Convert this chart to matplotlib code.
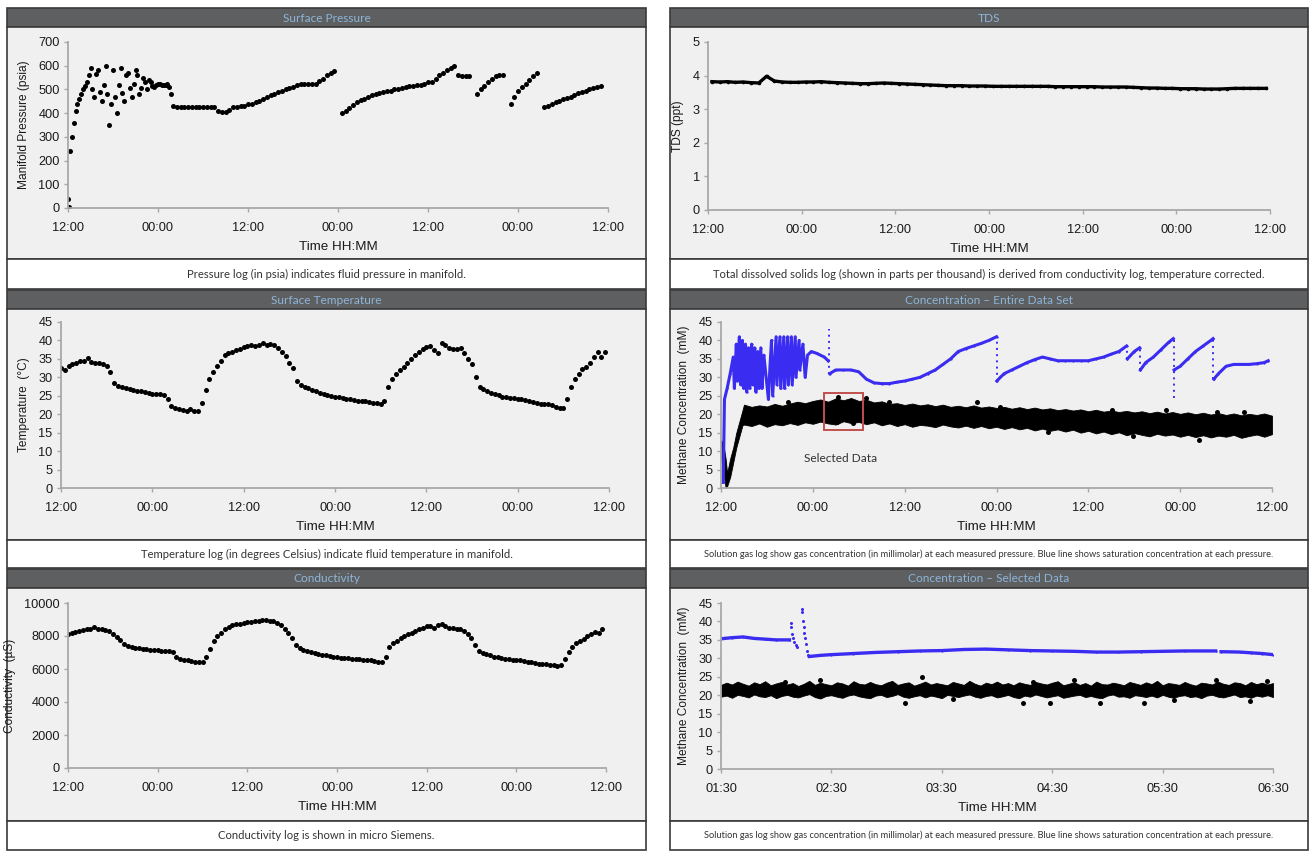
import numpy as np
import matplotlib
matplotlib.use("Agg")
import matplotlib.pyplot as plt
from matplotlib.patches import Rectangle

W, H = 1309, 852

# ---------------------------------------------------------------- data
# time axis: hours since 12:00 on the first day of logging
half_hour_t = np.arange(0, 72, 0.5)
pressure_t = np.arange(0, 71.5, 0.5)
tds_t = np.arange(72) + 0.5

pressure_psia = [
    40, 300, 410, 460, 500, 530, 590, 470, 580, 450,
    600, 350, 580, 400, 590, 450, 570, 470, 580, 480,
    550, 500, 530, 510, 525, 520, 520, 510, 430, 425,
    425, 425, 425, 425, 425, 425, 425, 425, 425, 425,
    410, 405, 405, 415, 425, 428, 430, 432, 438, 440,
    445, 450, 460, 468, 475, 482, 490, 495, 500, 505,
    510, 520, 525, 525, 525, 525, 525, 535, 545, 560,
    570, 578, np.nan, 400, 410, 420, 435, 445, 455, 460,
    470, 475, 480, 485, 490, 492, 495, 500, 500, 505,
    510, 515, 515, 518, 520, 525, 530, 532, 545, 560,
    570, 580, 590, 598, 560, 558, 555, 555, np.nan, 480,
    500, 515, 530, 545, 555, 560, 560, np.nan, 440, 470,
    495, 510, 525, 540, 555, 570, np.nan, 425, 430, 440,
    448, 450, 460, 465, 470, 478, 485, 490, 495, 500,
    505, 510, 515,
]
# extra readings logged between the half-hour marks while the well was cycling
pressure_cycle_t = [0.1, 0.25, 0.75, 1.25, 1.75, 2.25, 2.75, 3.25, 3.75, 4.25,
                    4.75, 5.25, 5.75, 6.25, 6.75, 7.25, 7.75, 8.25, 8.75, 9.25,
                    9.75, 10.25, 10.75, 11.25, 11.75, 12.25, 12.75, 13.25, 13.75]
pressure_cycle_psia = [5, 240, 360, 440, 480, 515, 560, 500, 565, 490,
                       520, 480, 440, 470, 520, 485, 560, 505, 525, 560,
                       505, 530, 540, 515, 520, 522, 518, 525, 480]

temperature_c = [
    32.5, 32.0, 33.0, 33.5, 34.0, 34.3, 34.5, 35.2, 34.2, 34.0,
    33.8, 33.6, 33.2, 31.5, 28.5, 27.6, 27.3, 27.0, 26.8, 26.5,
    26.3, 26.2, 26.0, 25.8, 25.6, 25.5, 25.4, 25.2, 24.2, 22.2,
    21.8, 21.5, 21.2, 21.0, 21.3, 20.8, 20.8, 23.0, 26.5, 29.5,
    31.5, 33.0, 34.5, 36.0, 36.7, 37.0, 37.3, 37.8, 38.3, 38.5,
    38.8, 38.6, 38.9, 39.2, 38.8, 39.1, 38.7, 38.0, 37.0, 35.8,
    34.0, 32.5, 29.0, 28.0, 27.4, 27.0, 26.6, 26.2, 25.8, 25.5,
    25.2, 25.0, 24.8, 24.6, 24.3, 24.2, 24.0, 23.8, 23.7, 23.6,
    23.5, 23.3, 23.1, 23.0, 22.8, 23.5, 27.5, 29.5, 31.0, 32.0,
    32.8, 34.0, 35.0, 36.0, 37.0, 37.8, 38.3, 38.5, 37.5, 36.5,
    39.3, 38.8, 38.0, 37.6, 37.8, 38.0, 36.5, 35.0, 33.5, 30.0,
    27.5, 26.8, 26.3, 25.8, 25.4, 25.1, 24.8, 24.6, 24.4, 24.3,
    24.2, 24.0, 23.9, 23.7, 23.3, 23.0, 22.8, 22.8, 22.7, 22.6,
    22.0, 21.7, 21.8, 24.0, 27.5, 29.5, 31.0, 32.3, 32.8, 34.0,
    35.5, 37.0, 35.5, 37.0,
]

conductivity_us = [
    8150, 8200, 8250, 8300, 8380, 8420, 8450, 8520, 8450, 8420,
    8380, 8300, 8150, 7950, 7750, 7500, 7380, 7330, 7300, 7260,
    7230, 7200, 7180, 7170, 7150, 7120, 7100, 7080, 7050, 6700,
    6620, 6560, 6520, 6480, 6450, 6420, 6400, 6700, 7200, 7700,
    8000, 8200, 8400, 8550, 8650, 8700, 8750, 8800, 8850, 8870,
    8900, 8920, 8950, 8980, 8930, 8880, 8800, 8650, 8450, 8200,
    7850, 7450, 7250, 7180, 7100, 7050, 6980, 6920, 6870, 6830,
    6780, 6740, 6710, 6690, 6660, 6640, 6620, 6600, 6580, 6560,
    6540, 6520, 6480, 6450, 6400, 6750, 7350, 7600, 7700, 7900,
    8000, 8100, 8200, 8300, 8400, 8500, 8580, 8620, 8500, 8650,
    8700, 8600, 8500, 8480, 8450, 8400, 8300, 8150, 7850, 7450,
    7100, 6950, 6880, 6820, 6750, 6700, 6650, 6610, 6590, 6570,
    6560, 6540, 6500, 6450, 6400, 6350, 6330, 6300, 6280, 6250,
    6220, 6200, 6250, 6600, 7050, 7350, 7550, 7700, 7800, 8000,
    8150, 8250, 8200, 8420,
]

tds_ppt = [
    3.82, 3.81, 3.82, 3.80, 3.81, 3.79, 3.78, 3.98, 3.84, 3.81, 3.80, 3.80,
    3.81, 3.81, 3.82, 3.80, 3.79, 3.78, 3.77, 3.76, 3.76, 3.77, 3.78, 3.77,
    3.76, 3.75, 3.74, 3.73, 3.72, 3.71, 3.70, 3.70, 3.70, 3.69, 3.69, 3.69,
    3.68, 3.68, 3.68, 3.68, 3.68, 3.68, 3.68, 3.68, 3.67, 3.67, 3.67, 3.67,
    3.67, 3.67, 3.66, 3.66, 3.66, 3.66, 3.65, 3.64, 3.63, 3.63, 3.62, 3.62,
    3.61, 3.61, 3.61, 3.60, 3.60, 3.60, 3.61, 3.62, 3.62, 3.62, 3.62, 3.62,
]

# saturation concentration (mM), segments separated by NaN
sat_t = [
    0.3, 0.45, 0.8, 1.2, 1.6, 1.75, 2.0, 2.15, 2.4, 2.55, 2.8, 2.95, 3.2, 3.35,
    3.6, 3.75, 4.0, 4.15, 4.4, 4.55, 4.8, 4.95, 5.2, 5.35, 5.6, 6.2, 6.4, 6.6,
    6.75, 7.2, 7.3, 7.7, 7.8, 8.2, 8.3, 8.7, 8.8, 9.2, 9.3, 9.7, 9.8, 10.2,
    10.3, 10.7, 11.0, 11.3, 11.8, 12.5, 13.5, 14.0, np.nan,
    14.2, 15, 16, 17, 18, 19, 20, 21, 22, 23, 24, 25, 26, 27, 28, 29, 30, 31,
    32, 33, 34, 35, 36, np.nan,
    36.05, 36.5, 37, 38, 39, 40, 41, 42, 43, 44, 45, 46, 47, 48, 49, 50, 51,
    52, 53, np.nan,
    53.1, 54, 54.7, np.nan,
    54.8, 55.5, 56.5, 57.5, 58.5, 59.1, np.nan,
    59.2, 60, 61, 62, 63, 64, 64.3, np.nan,
    64.4, 65, 66, 67, 68, 69, 70, 71, 71.5,
]
sat_mm = [
    1.5, 24, 27, 31, 35.5, 27, 39, 29, 41, 28, 40, 27, 39, 26,
    38, 27, 39, 28, 38, 26, 37, 27, 38, 27, 36, 24, 33, 40,
    25, 41, 28, 41, 27, 41, 27, 41, 28, 41, 28, 41, 30, 40,
    32, 39, 30, 36, 37, 36.5, 35.5, 34.5, np.nan,
    31, 32, 32, 32, 31.5, 29.5, 28.5, 28.3, 28.3, 28.7, 29, 29.5, 30, 31, 32,
    33.5, 35, 37, 37.8, 38.5, 39.2, 40, 41, np.nan,
    29, 30, 31, 32, 33, 34, 34.8, 35.5, 35, 34.5, 34.5, 34.5, 34.5, 34.5, 35,
    35.5, 36.3, 37, 38.5, np.nan,
    35, 37, 38, np.nan,
    32, 34, 35.5, 37.5, 39.5, 40.5, np.nan,
    32, 33, 35, 37, 38.5, 40, 40.5, np.nan,
    29.5, 31, 33, 33.5, 33.5, 33.5, 33.7, 34, 34.5,
]
# pressure drops: time, value before, value after
drop_t = [14.1, 36.0, 53.0, 54.75, 59.15, 64.35]
drop_top = [43, 41, 38.5, 38, 40.5, 40.5]
drop_bottom = [31, 29, 35, 32, 24.5, 29.5]

# measured methane concentration band (mM): low / high envelope
band_t = [0, 0.3, 0.6, 0.8, 1.2, 1.6, 2.0, 2.4, 2.8] + list(range(3, 73))
band_low = [
    8, 5, 0, 0.5, 3, 7, 11, 14, 17,
    17.2, 16.8, 17.5, 16.6, 17.3, 17.0, 17.6, 17.1, 17.8, 17.4,
    18.0, 17.5, 17.2, 18.1, 17.6, 17.9, 17.3, 17.8, 17.0, 17.5,
    16.8, 17.3, 16.6, 17.1, 16.9, 16.5, 17.2, 16.7, 16.4, 16.9,
    16.3, 16.8, 16.2, 16.6, 16.0, 16.5, 15.9, 16.3, 15.6, 16.1,
    15.5, 15.9, 15.3, 15.8, 15.0, 15.5, 14.8, 15.3, 14.6, 15.1,
    14.3, 14.9, 14.4, 14.0, 14.7, 14.2, 14.5, 13.9, 14.4, 13.8,
    14.3, 13.7, 14.2, 13.9, 14.4, 13.6, 14.1, 14.5, 13.9, 14.6,
]
band_high = [
    13, 12, 8, 4, 8, 11, 15, 18, 21,
    22.6, 22.0, 22.4, 22.1, 22.8, 22.3, 22.9, 23.4, 23.0, 23.6,
    24.0, 23.4, 24.3, 23.8, 24.4, 23.6, 23.9, 23.2, 23.5, 22.8,
    23.0, 22.5, 22.9, 22.4, 22.7, 22.2, 22.6, 22.0, 22.3, 21.9,
    22.4, 21.8, 22.1, 21.7, 22.0, 21.5, 21.9, 21.4, 21.8, 21.3,
    21.6, 21.1, 21.4, 21.0, 21.3, 20.8, 21.2, 20.7, 21.0, 20.6,
    20.9, 20.5, 20.8, 20.3, 20.7, 20.2, 20.6, 20.1, 20.5, 20.0,
    20.4, 19.9, 20.3, 19.8, 20.2, 19.7, 20.1, 19.8, 20.2, 19.6,
]
outlier_t = [8.7, 15.3, 18.9, 21.9, 33.5, 36.5, 51.1, 58.2, 64.8, 68.3,
             15.1, 17.2, 42.7, 53.8, 62.5]
outlier_mm = [23.2, 24.8, 24.3, 23.4, 23.2, 22.0, 21.1, 21.2, 20.5, 20.5,
              18.0, 17.5, 15.3, 14.0, 13.0]

# selected window (hours) and its concentration range
sel_start, sel_end = 13.5, 18.5
sel_box_low, sel_box_high = 15.7, 25.7

# selected data: hours since 01:30
sel_sat_t = [0, 0.1, 0.2, 0.3, 0.4, 0.5, 0.62, np.nan,
             0.8, 0.9, 1.0, 1.2, 1.4, 1.6, 1.8, 2.0, 2.2, 2.4, 2.6, 2.8, 3.0,
             3.2, 3.4, 3.6, 3.8, 4.0, 4.2, 4.48, np.nan,
             4.53, 4.7, 4.8, 4.9, 5.0]
sel_sat_mm = [35.3, 35.6, 35.8, 35.4, 35.2, 35.0, 35.0, np.nan,
              30.5, 30.8, 31.0, 31.3, 31.6, 31.8, 32.0, 32.1, 32.4, 32.5, 32.3,
              32.1, 32.0, 31.9, 31.7, 31.7, 31.8, 31.9, 32.0, 32.0, np.nan,
              31.8, 31.7, 31.5, 31.3, 31.0]
sel_jump_t = [0.63, 0.635, 0.645, 0.655, 0.665, 0.675, 0.685, 0.73, 0.735,
              0.74, 0.75, 0.755, 0.76, 0.77, 0.78, 0.79]
sel_jump_mm = [39.5, 38.5, 36.5, 35.5, 34.5, 33.5, 33.0, 43.5, 42.5,
               40.0, 38.5, 37.0, 35.5, 34.0, 32.0, 31.0]
sel_band_t = np.arange(0, 5.01, 0.05)
sel_band_low = [
    19.6, 19.9, 19.3, 20.1, 19.8, 19.4, 20.2, 19.7, 19.5, 20.0,
    19.2, 19.8, 20.1, 19.6, 19.4, 19.9, 20.3, 19.5, 19.1, 19.8,
    20.0, 19.6, 19.3, 19.9, 20.2, 19.7, 19.4, 19.2, 19.9, 20.1,
    19.5, 19.8, 20.3, 19.6, 19.3, 19.7, 20.0, 19.4, 19.9, 19.6,
    19.2, 20.1, 19.8, 19.5, 19.9, 20.2, 19.6, 19.3, 19.8, 20.0,
    19.4, 19.7, 20.1, 19.5, 19.2, 19.9, 19.6, 20.2, 19.8, 19.4,
    19.7, 20.0, 19.3, 19.6, 19.9, 20.1, 19.5, 19.8, 19.4, 19.2,
    19.9, 20.2, 19.6, 19.7, 19.3, 20.0, 19.8, 19.5, 19.9, 19.4,
    20.1, 19.6, 19.3, 19.8, 20.0, 19.5, 19.7, 19.2, 19.9, 20.1,
    19.6, 19.4, 19.8, 20.2, 19.5, 19.7, 19.3, 19.9, 19.6, 20.0, 19.5,
]
sel_band_high = [
    22.8, 23.4, 22.9, 23.7, 23.1, 22.6, 23.5, 23.0, 23.8, 22.7,
    23.2, 23.6, 22.9, 23.3, 22.5, 23.1, 23.9, 22.8, 23.4, 23.0,
    22.7, 23.5, 23.2, 22.6, 23.8, 23.1, 22.9, 23.6, 23.0, 22.7,
    23.4, 23.9, 22.8, 23.2, 23.5, 22.6, 23.1, 23.7, 22.9, 23.3,
    23.0, 22.7, 23.6, 23.2, 22.8, 23.9, 23.1, 22.6, 23.4, 23.0,
    23.7, 22.9, 23.3, 22.7, 23.5, 23.1, 22.8, 23.6, 23.2, 22.9,
    23.4, 23.8, 22.7, 23.1, 23.5, 22.8, 23.3, 22.6, 23.7, 23.0,
    22.9, 23.4, 23.1, 22.7, 23.6, 23.2, 22.8, 23.5, 23.0, 23.9,
    22.7, 23.3, 23.1, 22.8, 23.6, 23.0, 22.6, 23.4, 23.2, 22.9,
    23.7, 23.1, 22.8, 23.5, 23.3, 22.7, 23.6, 23.0, 23.4, 22.9, 23.3,
]
sel_out_t = [1.67, 2.74, 2.98, 3.43, 3.83, 4.79, 1.82, 4.48, 2.83, 0.58,
             0.9, 2.1, 3.2, 4.1, 4.95]
sel_out_mm = [17.8, 17.8, 17.9, 17.9, 17.8, 18.3, 24.9, 24.2, 23.7, 23.7,
              24.0, 18.9, 24.1, 18.8, 23.8]

day_ticks = [0, 12, 24, 36, 48, 60, 72]
day_labels = ["12:00", "00:00", "12:00", "00:00", "12:00", "00:00", "12:00"]
sel_ticks = [0, 1, 2, 3, 4, 5]
sel_labels = ["01:30", "02:30", "03:30", "04:30", "05:30", "06:30"]

titles = ["Surface Pressure", "TDS", "Surface Temperature",
          "Concentration \u2013 Entire Data Set", "Conductivity",
          "Concentration \u2013 Selected Data"]
captions = [
    "Pressure log (in psia) indicates fluid pressure in manifold.",
    "Total dissolved solids log (shown in parts per thousand) is derived from conductivity log, temperature corrected.",
    "Temperature log (in degrees Celsius) indicate fluid temperature in manifold.",
    "Solution gas log show gas concentration (in millimolar) at each measured pressure. Blue line shows saturation concentration at each pressure.",
    "Conductivity log is shown in micro Siemens.",
    "Solution gas log show gas concentration (in millimolar) at each measured pressure. Blue line shows saturation concentration at each pressure.",
]

# ---------------------------------------------------------------- styling
TICK_FONT = ["Liberation Sans Narrow", "Liberation Sans", "DejaVu Sans"]
TEXT_FONT = ["Lato", "DejaVu Sans"]
BAR = "#5e5f61"
TITLE_BLUE = "#8db5d8"
PLOT_BG = "#f0f0f0"
AXIS = "#a8a8a8"
BLUE = "#3b2cf2"

fig = plt.figure(figsize=(W / 100, H / 100), dpi=100)
fig.patch.set_facecolor("white")
bg = fig.add_axes([0, 0, 1, 1])
bg.set_xlim(0, W)
bg.set_ylim(H, 0)
bg.axis("off")

columns = [(7, 646), (670, 1308)]
rows = [(8, 27, 259, 289), (290, 309, 540, 568), (569, 588, 821, 850)]

for r, (yt, yp, yc, yb) in enumerate(rows):
    for c, (x0, x1) in enumerate(columns):
        idx = r * 2 + c
        bg.add_patch(Rectangle((x0, yt), x1 - x0, yp - yt, facecolor=BAR,
                               edgecolor="#3a3a3a", lw=1.2))
        bg.add_patch(Rectangle((x0, yp), x1 - x0, yc - yp, facecolor=PLOT_BG,
                               edgecolor="#3a3a3a", lw=1.2))
        bg.add_patch(Rectangle((x0, yc), x1 - x0, yb - yc, facecolor="white",
                               edgecolor="#3a3a3a", lw=1.2))
        bg.text((x0 + x1) / 2, (yt + yp) / 2 + 0.5, titles[idx], color=TITLE_BLUE,
                ha="center", va="center", fontsize=8.6, family=TEXT_FONT)
        small = idx in (3, 5)
        bg.text((x0 + x1) / 2, (yc + yb) / 2, captions[idx], color="#333333",
                ha="center", va="center", fontsize=6.7 if small else 8.1,
                family=TEXT_FONT)


def make_axes(left, right, top, bottom):
    ax = fig.add_axes([left / W, 1 - bottom / H, (right - left) / W, (bottom - top) / H])
    ax.set_facecolor("none")
    for s in ("top", "right"):
        ax.spines[s].set_visible(False)
    for s in ("left", "bottom"):
        ax.spines[s].set_color(AXIS)
        ax.spines[s].set_linewidth(1.3)
    ax.tick_params(axis="both", colors=AXIS, labelcolor="#1a1a1a", length=3,
                   width=1, labelsize=9)
    ax.tick_params(axis="x", pad=7)
    ax.tick_params(axis="y", pad=3)
    return ax


def finish(ax, ymax, ystep, ylabel, xt, xl, xmax):
    ax.set_ylim(0, ymax)
    ax.set_yticks(np.arange(0, ymax + ystep / 2, ystep))
    ax.set_xlim(0, xmax)
    ax.set_xticks(xt)
    ax.set_xticklabels(xl)
    for lab in ax.get_xticklabels() + ax.get_yticklabels():
        lab.set_family(TICK_FONT)
        lab.set_fontsize(9.2)
    ax.set_xlabel("Time HH:MM", family=TICK_FONT, fontsize=9.6, color="#1a1a1a",
                  labelpad=5)
    ax.set_ylabel(ylabel, family=["Liberation Sans", "DejaVu Sans"], fontsize=8.6,
                  color="#1a1a1a", labelpad=6)


dot = dict(linestyle="none", marker="o", color="black", markersize=3.6,
           markeredgewidth=0)

# Surface pressure
ax = make_axes(68, 608, 42, 208)
ax.plot(pressure_t, pressure_psia, **dot)
ax.plot(pressure_cycle_t, pressure_cycle_psia, **dot)
finish(ax, 700, 100, "Manifold Pressure (psia)", day_ticks, day_labels, 72)

# TDS
ax = make_axes(708, 1270, 42, 210)
ax.plot(tds_t, tds_ppt, color="black", lw=2.4, marker="o", markersize=2.6,
        markeredgewidth=0)
finish(ax, 5, 1, "TDS (ppt)", day_ticks, day_labels, 72)

# Surface temperature
ax = make_axes(61, 609, 322, 488)
ax.plot(half_hour_t, temperature_c, **dot)
finish(ax, 45, 5, "Temperature  (\u00b0C)", day_ticks, day_labels, 72)

# Concentration - entire data set
ax = make_axes(721, 1272, 322, 488)
ax.fill_between(band_t, band_low, band_high, color="black", lw=0.6)
ax.plot(outlier_t, outlier_mm, **dot)
ax.plot(sat_t, sat_mm, color=BLUE, lw=2.2, marker="o", markersize=1.6,
        markeredgewidth=0)
ax.vlines(drop_t, drop_bottom, drop_top, colors=BLUE, linestyles=(0, (1, 2.2)),
          lw=1.4)
ax.add_patch(Rectangle((sel_start, sel_box_low), sel_end - sel_start,
                       sel_box_high - sel_box_low, fill=False,
                       edgecolor="#c0504d", lw=1.4, zorder=5))
ax.text(10.8, 8.1, "Selected Data", family=TEXT_FONT, fontsize=8.6,
        color="#333333", va="center", ha="left")
finish(ax, 45, 5, "Methane Concentration  (mM)", day_ticks, day_labels, 72)

# Conductivity
ax = make_axes(68, 606, 603, 768)
ax.plot(half_hour_t, conductivity_us, **dot)
finish(ax, 10000, 2000, "Conductivity  (\u00b5S)", day_ticks, day_labels, 72)

# Concentration - selected data
ax = make_axes(721, 1273, 603, 769)
ax.fill_between(sel_band_t, sel_band_low, sel_band_high, color="black", lw=0.6)
ax.plot(sel_out_t, sel_out_mm, **dot)
ax.plot(sel_sat_t, sel_sat_mm, color=BLUE, lw=2.4, marker="o", markersize=1.6,
        markeredgewidth=0)
ax.plot(sel_jump_t, sel_jump_mm, linestyle="none", marker="o", color=BLUE,
        markersize=2.2, markeredgewidth=0)
finish(ax, 45, 5, "Methane Concentration  (mM)", sel_ticks, sel_labels, 5)

fig.savefig("out.png", dpi=100, facecolor="white")
